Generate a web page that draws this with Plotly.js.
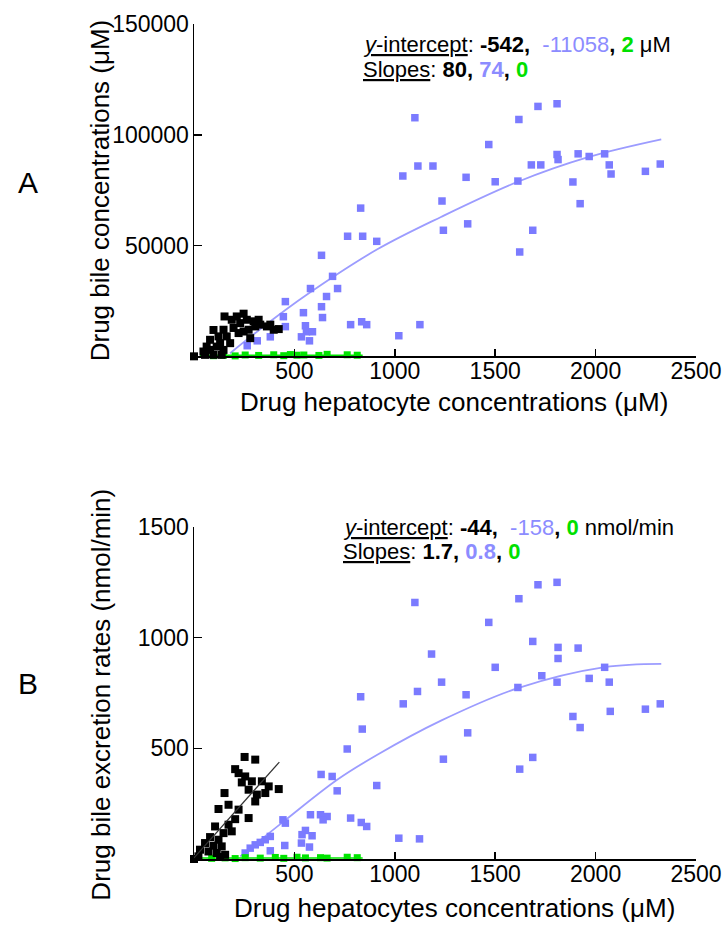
<!DOCTYPE html>
<html>
<head>
<meta charset="utf-8">
<script src="https://cdn.plot.ly/plotly-3.0.1.min.js"></script>
<style>html,body{margin:0;padding:0;background:#fff;}#chart{width:724px;height:929px;}</style>
</head>
<body>
<div id="chart"></div>
<script>
// ---------- Panel A: bile concentrations ----------
var blackAx = [0,47,63,80,97,152,188,213,247,230,263,297,305,330,363,380,422,147,163,197,222,247,280,130,147,138,180,80,113,55,97,272,322,397,122];
var blackAy = [0,2170,4400,7460,11900,18000,16500,18000,19250,15000,16500,15800,13500,14300,13500,14300,12300,12000,9000,12800,10500,11200,8200,5950,2900,660,5950,2900,4400,660,660,12000,16500,12000,9000];

var blueAx = [1100,1115,1190,1040,830,765,840,910,635,690,580,715,660,455,545,635,640,445,455,555,780,835,860,1125,1020,560,590,535,575,380,315,265,
              1808,1713,1618,1468,1808,1813,1913,1968,2045,2068,2077,2248,2322,1680,1727,1355,1500,1613,1887,1235,1923,1242,1363,1687,1622];
var blueAy = [107700,85900,85900,81400,66900,54200,54200,51900,45600,36100,30600,30600,27000,24700,19700,22400,17500,17900,13400,13800,14300,15600,14300,14300,9300,11100,11100,8800,7000,8800,7000,4800,
              114000,112800,106900,95600,91100,88800,91400,90200,91400,86400,82300,83500,86800,86400,86400,80800,78800,79100,78700,70100,68900,56900,59800,56900,47100];

var greenAx = [97,147,205,255,322,397,447,480,513,547,622,663,763,813];
var greenAy = [300,500,200,600,400,700,300,800,500,600,400,900,700,500];

var fitBlueAx = [180,363,563,913,1230,1613,1963,2327];
var fitBlueAy = [1400,14600,27900,48300,62900,78800,89900,97900];
var fitGreenAx = [30,840];
var fitGreenAy = [500,500];

// ---------- Panel B: bile excretion rates ----------
var blackBx = [0,252,305,205,222,255,238,288,338,372,422,355,313,272,152,305,172,122,222,272,205,172,105,188,147,80,122,55,97,138,30,72,113,155,22,130];
var blackBy = [0,461,449,406,388,373,346,351,351,328,316,298,291,313,298,260,245,226,223,185,180,155,147,125,117,99,87,72,60,57,42,34,27,19,12,9];

var blueBx = [1100,1183,1113,1042,830,838,763,910,633,688,713,580,630,663,643,780,833,860,443,455,555,588,538,535,575,1020,1123,380,355,330,305,280,255,380,452,
              1808,1713,1618,1468,1687,1813,1913,1813,1500,2045,1732,1233,1613,1808,1968,2068,1355,2322,2248,2073,1887,1923,1363,1242,1687,1622];
var blueBy = [1159,926,757,701,733,587,497,332,382,373,308,200,200,192,177,185,165,147,177,162,129,105,110,72,54,94,91,102,87,75,64,49,27,37,61,
              1250,1239,1176,1069,983,956,953,906,866,866,828,799,775,799,816,799,742,701,677,667,644,594,570,451,459,406];

var greenBx = [88,155,205,255,330,405,447,513,555,630,663,763,813];
var greenBy = [3,5,2,6,4,7,3,8,5,6,4,8,6];

var fitBlueBx = [230,447,713,913,1230,1613,2045,2327];
var fitBlueBy = [12,170,358,471,625,772,867,882];
var fitBlackBx = [0,425];
var fitBlackBy = [5,438];
var fitGreenBx = [30,840];
var fitGreenBy = [4,4];

// ---------- Ticks and labels ----------
var xTickVals = [500,1000,1500,2000,2500];
var xTickText = ['500','1000','1500','2000','2500'];
var yATickVals = [50000,100000,150000];
var yATickText = ['50000','100000','150000'];
var yBTickVals = [500,1000,1500];
var yBTickText = ['500','1000','1500'];

var xTitleA = 'Drug hepatocyte concentrations (μM)';
var yTitleA = 'Drug bile concentrations (μM)';
var xTitleB = 'Drug hepatocytes concentrations (μM)';
var yTitleB = 'Drug bile excretion rates (nmol/min)';

var BLUE = '#7b7bff', BLUEFIT = '#9c9cff', GREEN = '#00e400', BLACK = '#000000';
var FONT = 'Liberation Sans, Arial, sans-serif';

function pts(x, y, color, size, xa, ya) {
  return {x: x, y: y, xaxis: xa, yaxis: ya, type: 'scatter', mode: 'markers', cliponaxis: false,
          marker: {symbol: 'square', size: size, color: color, line: {width: 0}}, hoverinfo: 'x+y'};
}
function ln(x, y, color, width, xa, ya, shape) {
  return {x: x, y: y, xaxis: xa, yaxis: ya, type: 'scatter', mode: 'lines', cliponaxis: false,
          line: {color: color, width: width, shape: shape || 'linear', smoothing: 1}, hoverinfo: 'skip'};
}

var data = [
  ln(fitGreenAx, fitGreenAy, GREEN, 1.5, 'x', 'y'),
  ln(fitBlueAx, fitBlueAy, BLUEFIT, 1.8, 'x', 'y', 'spline'),
  pts(blueAx, blueAy, BLUE, 7.5, 'x', 'y'),
  pts(greenAx, greenAy, GREEN, 7, 'x', 'y'),
  pts(blackAx, blackAy, BLACK, 8, 'x', 'y'),

  ln(fitGreenBx, fitGreenBy, GREEN, 1.5, 'x2', 'y2'),
  ln(fitBlueBx, fitBlueBy, BLUEFIT, 1.8, 'x2', 'y2', 'spline'),
  pts(blueBx, blueBy, BLUE, 7.5, 'x2', 'y2'),
  pts(greenBx, greenBy, GREEN, 7, 'x2', 'y2'),
  pts(blackBx, blackBy, BLACK, 8, 'x2', 'y2'),
  ln(fitBlackBx, fitBlackBy, '#333333', 1.2, 'x2', 'y2')
];

function xAxis(anchor) {
  return {anchor: anchor, domain: [0, 1], range: [0, 2500], tickmode: 'array', tickvals: xTickVals, ticktext: xTickText,
          ticks: 'inside', ticklen: 7, tickwidth: 1.5, tickcolor: '#000', showline: true, linecolor: '#000', linewidth: 1.5,
          showgrid: false, zeroline: false, tickfont: {family: FONT, size: 23, color: '#000'}, ticklabelstandoff: -6,
          automargin: false};
}
function yAxis(anchor, dom, range, tv, tt) {
  return {anchor: anchor, domain: dom, range: range, tickmode: 'array', tickvals: tv, ticktext: tt,
          ticks: 'inside', ticklen: 8, tickwidth: 1.5, tickcolor: '#000', showline: true, linecolor: '#000', linewidth: 1.5,
          showgrid: false, zeroline: false, tickfont: {family: FONT, size: 23, color: '#000'}, ticklabelstandoff: -1,
          automargin: false};
}

var BT = "<span style='color:#8c8cff'>", GT = "<span style='color:#00e000'>";
var annFont = {family: FONT, size: 22, color: '#000'};
var titleFont = {family: FONT, size: 26, color: '#000'};

var layout = {
  width: 724, height: 929,
  margin: {l: 194, r: 28, t: 24, b: 70},
  paper_bgcolor: '#fff', plot_bgcolor: '#fff',
  showlegend: false,
  xaxis: xAxis('y'),
  yaxis: yAxis('x', [0.602, 1], [0, 150000], yATickVals, yATickText),
  xaxis2: xAxis('y2'),
  yaxis2: yAxis('x2', [0, 0.3976], [0, 1500], yBTickVals, yBTickText),
  annotations: [
    // axis titles
    {xref: 'paper', yref: 'paper', x: 0.518, y: 0.547, xanchor: 'center', yanchor: 'middle', showarrow: false, font: titleFont, text: xTitleA},
    {xref: 'paper', yref: 'paper', x: -0.187, y: 0.801, xanchor: 'center', yanchor: 'middle', textangle: -90, showarrow: false, font: titleFont, text: yTitleA},
    {xref: 'paper', yref: 'paper', x: 0.518, y: -0.059, xanchor: 'center', yanchor: 'middle', showarrow: false, font: titleFont, text: xTitleB},
    {xref: 'paper', yref: 'paper', x: -0.187, y: 0.197, xanchor: 'center', yanchor: 'middle', textangle: -90, showarrow: false, font: titleFont, text: yTitleB},
    // fit summaries
    {xref: 'paper', yref: 'paper', x: 0.333, y: 0.976, xanchor: 'left', yanchor: 'middle', showarrow: false, font: annFont,
     text: "<u><i>y</i>-intercept</u>: <b>-542,</b>  " + BT + "-11058</span><b>, " + GT + "2</span></b> μM"},
    {xref: 'paper', yref: 'paper', x: 0.333, y: 0.946, xanchor: 'left', yanchor: 'middle', showarrow: false, font: annFont,
     text: "<u>Slopes</u>: <b>80, " + BT + "74</span>, " + GT + "0</span></b>"},
    {xref: 'paper', yref: 'paper', x: 0.293, y: 0.3976, xanchor: 'left', yanchor: 'middle', showarrow: false, font: annFont,
     text: "<u><i>y</i>-intercept</u>: <b>-44,</b>  " + BT + "-158</span><b>, " + GT + "0</span></b> nmol/min"},
    {xref: 'paper', yref: 'paper', x: 0.293, y: 0.368, xanchor: 'left', yanchor: 'middle', showarrow: false, font: annFont,
     text: "<u>Slopes</u>: <b>1.7, " + BT + "0.8</span>, " + GT + "0</span></b>"},
    // panel letters
    {xref: 'paper', yref: 'paper', x: -0.33, y: 0.81, xanchor: 'center', yanchor: 'middle', showarrow: false,
     font: {family: FONT, size: 30, color: '#000'}, text: 'A'},
    {xref: 'paper', yref: 'paper', x: -0.33, y: 0.21, xanchor: 'center', yanchor: 'middle', showarrow: false,
     font: {family: FONT, size: 30, color: '#000'}, text: 'B'}
  ]
};

Plotly.newPlot('chart', data, layout, {displayModeBar: false, staticPlot: true});
</script>
</body>
</html>
